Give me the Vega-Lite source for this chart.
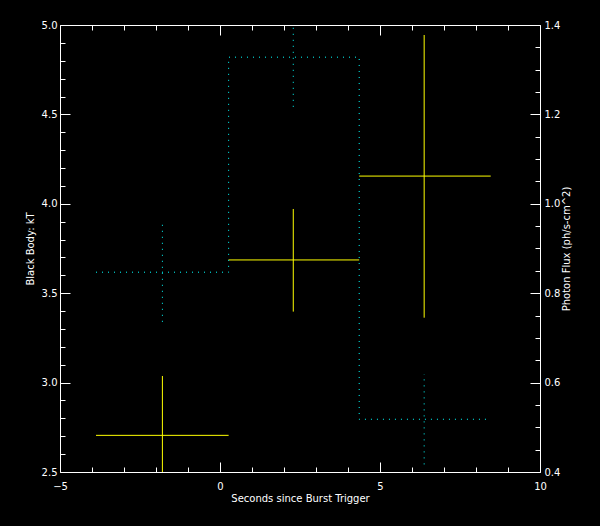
{
  "$schema": "https://vega.github.io/schema/vega-lite/v6.json",
  "width": 480,
  "height": 447,
  "autosize": {"type": "none"},
  "padding": {"left": 60, "top": 25, "right": 60, "bottom": 54},
  "background": "black",
  "config": {
    "view": {"stroke": "white", "strokeWidth": 1},
    "axis": {
      "grid": false,
      "ticks": false,
      "tickSize": 0,
      "domain": false,
      "zindex": 1,
      "gridColor": "white",
      "gridOpacity": 1,
      "gridWidth": 1,
      "labelColor": "white",
      "titleColor": "white",
      "labelFont": "DejaVu Sans",
      "titleFont": "DejaVu Sans",
      "labelFontSize": 10,
      "titleFontSize": 10,
      "titleFontWeight": "normal",
      "labelFlush": false,
      "labelOverlap": false
    }
  },
  "datasets": {
    "bins": [
      {"t": -1.80, "t0": -3.875, "t1": 0.27, "kT": 2.705, "kTlo": 2.5, "kThi": 3.037, "flux": 0.847, "fluxlo": 0.736, "fluxhi": 0.953},
      {"t": 2.29, "t0": 0.27, "t1": 4.35, "kT": 3.686, "kTlo": 3.397, "kThi": 3.971, "flux": 1.328, "fluxlo": 1.217, "fluxhi": 1.4},
      {"t": 6.38, "t0": 4.35, "t1": 8.46, "kT": 4.155, "kTlo": 3.363, "kThi": 4.944, "flux": 0.518, "fluxlo": 0.417, "fluxhi": 0.619}
    ],
    "steps": [
      {"edge": -3.875, "flux": 0.847},
      {"edge": 0.27, "flux": 1.328},
      {"edge": 4.35, "flux": 0.518},
      {"edge": 8.46, "flux": 0.518}
    ]
  },
  "resolve": {
    "scale": {"x": "independent", "y": "independent"},
    "axis": {"x": "independent", "y": "independent"}
  },
  "layer": [
    {
      "data": {"name": "bins"},
      "mark": {"type": "rule", "color": "#FFFF00", "strokeWidth": 1},
      "encoding": {
        "x": {
          "field": "t0", "type": "quantitative",
          "scale": {"domain": [-5, 10], "nice": false, "zero": false},
          "axis": {
            "orient": "bottom",
            "values": [-5, 0, 5, 10],
            "grid": true,
            "gridDash": [10, 427],
            "format": "d",
            "labelPadding": 9,
            "labelBaseline": "top",
            "title": "Seconds since Burst Trigger",
            "titlePadding": 2
          }
        },
        "x2": {"field": "t1"},
        "y": {
          "field": "kT", "type": "quantitative",
          "scale": {"domain": [2.5, 5.0], "nice": false, "zero": false},
          "axis": {
            "orient": "left",
            "values": [2.5, 3.0, 3.5, 4.0, 4.5, 5.0],
            "grid": true,
            "gridDash": [10, 460],
            "format": ".1f",
            "labelPadding": 3,
            "title": "Black Body: kT",
            "titlePadding": 6
          }
        }
      }
    },
    {
      "data": {"name": "bins"},
      "mark": {"type": "rule", "color": "#FFFF00", "strokeWidth": 1},
      "encoding": {
        "x": {
          "field": "t", "type": "quantitative",
          "scale": {"domain": [-5, 10], "nice": false, "zero": false},
          "axis": {
            "orient": "bottom",
            "values": [-4, -3, -2, -1, 1, 2, 3, 4, 6, 7, 8, 9],
            "grid": true,
            "gridDash": [5, 437],
            "labels": false,
            "title": null
          }
        },
        "y": {
          "field": "kTlo", "type": "quantitative",
          "scale": {"domain": [2.5, 5.0], "nice": false, "zero": false},
          "axis": {
            "orient": "left",
            "values": [2.6, 2.7, 2.8, 2.9, 3.1, 3.2, 3.3, 3.4, 3.6, 3.7, 3.8, 3.9, 4.1, 4.2, 4.3, 4.4, 4.6, 4.7, 4.8, 4.9],
            "grid": true,
            "gridDash": [5, 480],
            "labels": false,
            "title": null
          }
        },
        "y2": {"field": "kThi"}
      }
    },
    {
      "data": {"name": "steps"},
      "mark": {"type": "line", "color": "#00FFFF", "strokeWidth": 1, "strokeDash": [1, 5], "interpolate": "step-after"},
      "encoding": {
        "x": {
          "field": "edge", "type": "quantitative",
          "scale": {"domain": [-5, 10], "nice": false, "zero": false},
          "axis": null
        },
        "y": {
          "field": "flux", "type": "quantitative",
          "scale": {"domain": [0.4, 1.4], "nice": false, "zero": false},
          "axis": {
            "orient": "right",
            "values": [0.4, 0.6, 0.8, 1.0, 1.2, 1.4],
            "format": ".1f",
            "labelPadding": 4,
            "title": "Photon Flux (ph/s-cm^2)",
            "titleAngle": -90,
            "titlePadding": 12
          }
        }
      }
    },
    {
      "data": {"name": "bins"},
      "mark": {"type": "rule", "color": "#00FFFF", "strokeWidth": 1, "strokeDash": [1, 5]},
      "encoding": {
        "x": {
          "field": "t", "type": "quantitative",
          "scale": {"domain": [-5, 10], "nice": false, "zero": false},
          "axis": null
        },
        "y": {
          "field": "fluxlo", "type": "quantitative",
          "scale": {"domain": [0.4, 1.4], "nice": false, "zero": false},
          "axis": {
            "orient": "right",
            "values": [0.45, 0.5, 0.55, 0.65, 0.7, 0.75, 0.85, 0.9, 0.95, 1.05, 1.1, 1.15, 1.25, 1.3, 1.35],
            "grid": true,
            "gridDash": [5, 480],
            "labels": false,
            "title": null
          }
        },
        "y2": {"field": "fluxhi"}
      }
    }
  ]
}
